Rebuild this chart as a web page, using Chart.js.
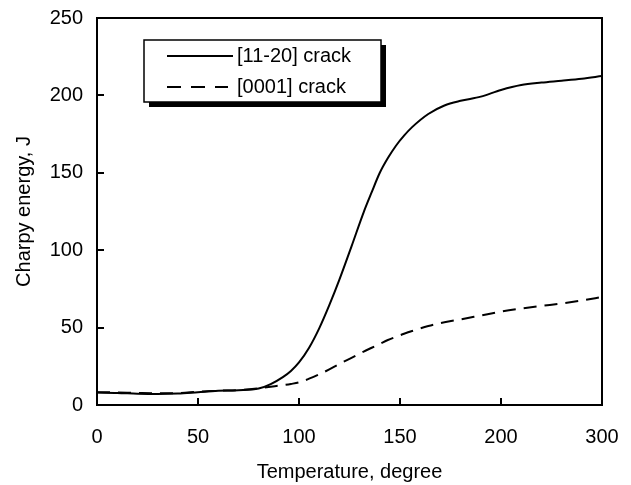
<!DOCTYPE html>
<html><head><meta charset="utf-8">
<script src="https://cdn.jsdelivr.net/npm/chart.js@4/dist/chart.umd.min.js"></script>
<style>html,body{margin:0;padding:0;background:#fff;}</style>
</head><body>
<canvas id="c" width="631" height="485"></canvas>
<script>
// x positions along the temperature axis (axis end is labelled 300)
const temperature = [0,10,20,30,40,50,60,70,80,86,92,96,100,105,110,115,120,126,132,136,140,144,148,152,156,164,172,180,190,200,210,220,230,240,250];
const crack1120 = [8,7.8,7.3,7.1,7.4,8.3,9.2,9.5,10.6,13.5,18,22,27.5,37,49.5,64.5,81,102.5,124.5,137.5,150,159.5,167.5,174,179.5,188,193.5,196.5,199.2,203.5,206.7,208.3,209.5,210.8,212.5];
const crack0001 = [8.3,8.1,7.8,7.6,7.7,8.5,9.2,9.6,10.8,11.8,12.8,13.6,14.6,17,19.8,23,26.5,30.5,34.5,37,39.5,42,44,46,47.8,51,53.5,55.3,57.8,60.3,62.3,64,65.6,67.5,69.8];
const seriesLabels = ['[11-20] crack', '[0001] crack'];
const xTickValues = [0,50,100,150,200,250];
const xTickLabels = ['0','50','100','150','200','300'];
const yTickValues = [0,50,100,150,200,250];

const FONT = "'Liberation Sans', Arial, Helvetica, sans-serif";

const framePlugin = {
  id: 'frame',
  afterDatasetsDraw(chart) {
    const {ctx, chartArea: a, scales: {x, y}} = chart;
    ctx.save();
    ctx.strokeStyle = '#000';
    ctx.lineWidth = 2;
    ctx.strokeRect(a.left, a.top, a.right - a.left, a.bottom - a.top);
    ctx.beginPath();
    const tl = 7;
    yTickValues.forEach(v => {
      if (v <= y.min || v >= y.max) return;
      const py = Math.round(y.getPixelForValue(v));
      ctx.moveTo(a.left, py); ctx.lineTo(a.left + tl, py);
    });
    xTickValues.forEach(v => {
      if (v <= x.min || v >= x.max) return;
      const px = Math.round(x.getPixelForValue(v));
      ctx.moveTo(px, a.bottom); ctx.lineTo(px, a.bottom - tl);
    });
    ctx.stroke();

    // legend box with drop shadow
    const bx = 144, by = 40, bw = 237, bh = 62, sh = 5;
    ctx.fillStyle = '#000';
    ctx.fillRect(bx + sh, by + sh, bw, bh);
    ctx.fillStyle = '#fff';
    ctx.fillRect(bx, by, bw, bh);
    ctx.lineWidth = 1.5;
    ctx.strokeRect(bx, by, bw, bh);
    ctx.font = '20px ' + FONT;
    ctx.textBaseline = 'middle';
    ctx.textAlign = 'left';
    ctx.fillStyle = '#000';
    chart.data.datasets.forEach((ds, i) => {
      const ly = by + 16 + i * 31;
      ctx.beginPath();
      ctx.lineWidth = 2;
      ctx.setLineDash(i === 0 ? [] : [14, 10]);
      ctx.moveTo(167, ly); ctx.lineTo(i === 0 ? 233 : 228, ly);
      ctx.stroke();
      ctx.setLineDash([]);
      ctx.fillText(ds.label, 237, ly);
    });
    ctx.restore();
  }
};

new Chart(document.getElementById('c'), {
  type: 'line',
  data: {
    datasets: [
      { label: seriesLabels[0], data: temperature.map((t, i) => ({x: t, y: crack1120[i]})),
        borderColor: '#000', borderWidth: 2, pointRadius: 0, cubicInterpolationMode: 'monotone', fill: false },
      { label: seriesLabels[1], data: temperature.map((t, i) => ({x: t, y: crack0001[i]})),
        borderColor: '#000', borderWidth: 2, borderDash: [13, 8], pointRadius: 0, cubicInterpolationMode: 'monotone', fill: false }
    ]
  },
  options: {
    responsive: false,
    animation: false,
    devicePixelRatio: 1,
    layout: { padding: { top: 18, right: 29, bottom: 0, left: 0 } },
    plugins: { legend: { display: false }, tooltip: { enabled: false } },
    scales: {
      x: {
        type: 'linear', min: 0, max: 250,
        afterBuildTicks: s => { s.ticks = xTickValues.map(v => ({value: v})); },
        afterFit: s => { s.height = 80; s.paddingLeft = 0; s.paddingRight = 0; },
        ticks: { callback: v => { const i = xTickValues.indexOf(v); return i >= 0 ? xTickLabels[i] : ''; },
          font: { family: FONT, size: 20, lineHeight: 1 }, color: '#000', padding: 22, maxRotation: 0, autoSkip: false },
        grid: { display: false, drawTicks: false },
        border: { display: false },
        title: { display: true, text: 'Temperature, degree', color: '#000',
          font: { family: FONT, size: 20, lineHeight: 1 }, padding: { top: 0, bottom: 3 } }
      },
      y: {
        type: 'linear', min: 0, max: 250,
        afterBuildTicks: s => { s.ticks = yTickValues.map(v => ({value: v})); },
        afterFit: s => { s.width = 97; s.paddingTop = 0; s.paddingBottom = 0; },
        ticks: { font: { family: FONT, size: 20, lineHeight: 1 }, color: '#000', padding: 14 },
        grid: { display: false, drawTicks: false },
        border: { display: false },
        title: { display: true, text: 'Charpy energy, J', color: '#000',
          font: { family: FONT, size: 20, lineHeight: 1 }, padding: { top: 14, bottom: 0 } }
      }
    }
  },
  plugins: [framePlugin]
});
</script>
</body></html>
